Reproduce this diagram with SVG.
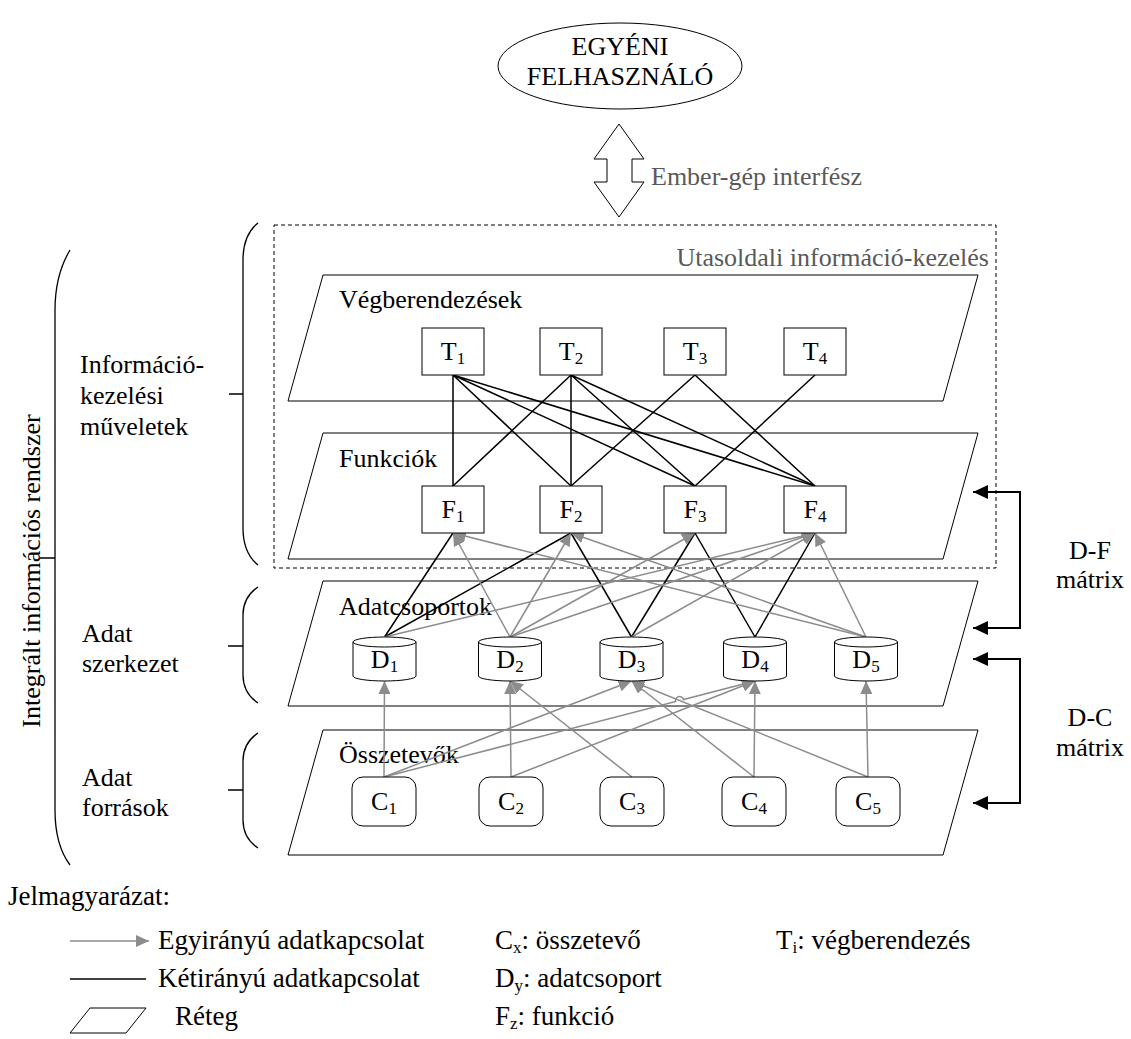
<svg xmlns="http://www.w3.org/2000/svg" width="1131" height="1039" viewBox="0 0 1131 1039">
<style>
text{font-family:"Liberation Serif","Times New Roman",serif;font-size:26px;fill:#000}
.gt{fill:#595959}
.lg{font-size:27px}
.sub{font-size:17px}
.box{fill:#fff;stroke:#000;stroke-width:1}
.layer{fill:none;stroke:#000;stroke-width:1}
.bi{stroke:#000;stroke-width:1.5;fill:none}
.uni{stroke:#8c8c8c;stroke-width:1.5;fill:none;marker-end:url(#ga)}
.brace{fill:none;stroke:#000;stroke-width:1.3}
.mat{fill:none;stroke:#000;stroke-width:2}
.mar{stroke:#000;stroke-width:2;marker-end:url(#ba)}
</style>
<defs>
<marker id="ga" markerUnits="userSpaceOnUse" markerWidth="14" markerHeight="12" refX="13" refY="6" orient="auto"><path d="M0,0 L13,6 L0,12 Z" fill="#8c8c8c"/></marker>
<marker id="ba" markerUnits="userSpaceOnUse" markerWidth="16" markerHeight="14" refX="15" refY="7" orient="auto"><path d="M0,0 L15,7 L0,14 Z" fill="#000"/></marker>
</defs>
<rect width="1131" height="1039" fill="#fff"/>

<g id="user">
<ellipse cx="620" cy="66" rx="122" ry="43" class="box"/>
<text x="620" y="55" text-anchor="middle">EGYÉNI</text>
<text x="620" y="85" text-anchor="middle">FELHASZNÁLÓ</text>
</g>
<g id="hmi">
<polygon points="619,124 644,159 632,159 632,182 644,182 619,217 594,182 607,182 607,159 594,159" class="box"/>
<text x="651" y="185" class="gt">Ember-gép interfész</text>
</g>

<g id="passenger-box">
<rect x="274" y="225" width="722" height="343" fill="none" stroke="#000" stroke-width="1" stroke-dasharray="4,3"/>
<text x="989" y="266" text-anchor="end" class="gt">Utasoldali információ-kezelés</text>
</g>

<g id="layers">
<g id="layer-T"><path class="layer" d="M323,275 L978,275 L943,401 L288,401 Z"/><text x="339" y="308">Végberendezések</text></g>
<g id="layer-F"><path class="layer" d="M323,433 L978,433 L943,559 L288,559 Z"/><text x="339" y="467">Funkciók</text></g>
<g id="layer-D"><path class="layer" d="M323,581 L978,581 L943,706 L288,706 Z"/><text x="339" y="615">Adatcsoportok</text></g>
<g id="layer-C"><path class="layer" d="M323,730 L978,730 L943,855 L288,855 Z"/><text x="339" y="763">Összetevők</text></g>
</g>

<g id="left-labels">
<g id="brace-all"><path class="brace" d="M70,250 Q55,275 55,310 L55,810 Q55,845 70,865 M40,558 H55"/>
<text transform="translate(40,571) rotate(-90)" text-anchor="middle">Integrált információs rendszer</text></g>
<g id="brace-info"><path class="brace" d="M258,223 Q243,235 243,260 L243,528 Q243,553 258,565 M229,394 H243"/>
<text x="80" y="373">Információ-</text><text x="80" y="404">kezelési</text><text x="80" y="435">műveletek</text></g>
<g id="brace-struct"><path class="brace" d="M258,587 Q243,597 243,615 L243,675 Q243,693 258,703 M228,646 H243"/>
<text x="82" y="642">Adat</text><text x="82" y="672">szerkezet</text></g>
<g id="brace-src"><path class="brace" d="M258,733 Q243,743 243,761 L243,820 Q243,838 258,848 M228,790 H243"/>
<text x="82" y="786">Adat</text><text x="82" y="816">források</text></g>
</g>

<g id="connectors">
<g id="T-F">
<path class="bi" d="M453,375 L453,486 M453,375 L571,486 M453,375 L695,486 M453,375 L815,486"/>
<path class="bi" d="M571,375 L453,486 M571,375 L571,486 M571,375 L695,486 M571,375 L815,486"/>
<path class="bi" d="M695,375 L571,486 M695,375 L815,486 M815,375 L695,486"/>
</g>
<g id="D-F">
<path class="bi" d="M384.5,637 L453,533 M384.5,637 L571,533 M631.5,637 L571,533 M631.5,637 L695,533 M755,637 L695,533 M755,637 L815,533"/>
<line class="uni" x1="510" y1="637" x2="453" y2="533"/>
<line class="uni" x1="866" y1="637" x2="453" y2="533"/>
<line class="uni" x1="510" y1="637" x2="571" y2="533"/>
<line class="uni" x1="866" y1="637" x2="571" y2="533"/>
<line class="uni" x1="510" y1="637" x2="695" y2="533"/>
<line class="uni" x1="384.5" y1="637" x2="815" y2="533"/>
<line class="uni" x1="510" y1="637" x2="815" y2="533"/>
<line class="uni" x1="631.5" y1="637" x2="815" y2="533"/>
<line class="uni" x1="866" y1="637" x2="815" y2="533"/>
</g>
<g id="C-D">
<line class="uni" x1="384" y1="777" x2="384.5" y2="681"/>
<line class="uni" x1="384" y1="777" x2="631.5" y2="681"/>
<path class="uni" d="M384,777 L675.7,701.5 A4,4 0 0 1 683.5,699.5 L755,681"/>
<line class="uni" x1="511" y1="777" x2="510" y2="681"/>
<line class="uni" x1="511" y1="777" x2="755" y2="681"/>
<line class="uni" x1="632" y1="777" x2="510" y2="681"/>
<line class="uni" x1="754" y1="777" x2="631.5" y2="681"/>
<line class="uni" x1="754" y1="777" x2="755" y2="681"/>
<line class="uni" x1="868" y1="777" x2="631.5" y2="681"/>
<line class="uni" x1="868" y1="777" x2="866" y2="681"/>
</g>
<g id="matrix-links">
<path class="mat" d="M1020,492 V628 M1020,659 V803"/>
<line class="mar" x1="1021" y1="492" x2="973" y2="492"/>
<line class="mar" x1="1021" y1="628" x2="973" y2="628"/>
<line class="mar" x1="1021" y1="659" x2="973" y2="659"/>
<line class="mar" x1="1021" y1="803" x2="973" y2="803"/>
</g>
</g>

<g id="nodes">
<g id="T1"><rect class="box" x="422" y="328" width="62" height="47"/><text x="453" y="360" text-anchor="middle">T<tspan class="sub" dy="4">1</tspan></text></g>
<g id="T2"><rect class="box" x="540" y="328" width="62" height="47"/><text x="571" y="360" text-anchor="middle">T<tspan class="sub" dy="4">2</tspan></text></g>
<g id="T3"><rect class="box" x="664" y="328" width="62" height="47"/><text x="695" y="360" text-anchor="middle">T<tspan class="sub" dy="4">3</tspan></text></g>
<g id="T4"><rect class="box" x="784" y="328" width="62" height="47"/><text x="815" y="360" text-anchor="middle">T<tspan class="sub" dy="4">4</tspan></text></g>

<g id="F1"><rect class="box" x="422" y="486" width="62" height="47"/><text x="453" y="518" text-anchor="middle">F<tspan class="sub" dy="4">1</tspan></text></g>
<g id="F2"><rect class="box" x="540" y="486" width="62" height="47"/><text x="571" y="518" text-anchor="middle">F<tspan class="sub" dy="4">2</tspan></text></g>
<g id="F3"><rect class="box" x="664" y="486" width="62" height="47"/><text x="695" y="518" text-anchor="middle">F<tspan class="sub" dy="4">3</tspan></text></g>
<g id="F4"><rect class="box" x="784" y="486" width="62" height="47"/><text x="815" y="518" text-anchor="middle">F<tspan class="sub" dy="4">4</tspan></text></g>

<g id="D1"><path class="box" d="M353,642 V676 A31.5,5 0 0 0 416,676 V642"/><ellipse class="box" cx="384.5" cy="642" rx="31.5" ry="5"/><text x="384.5" y="668" text-anchor="middle">D<tspan class="sub" dy="4">1</tspan></text></g>
<g id="D2"><path class="box" d="M478.5,642 V676 A31.5,5 0 0 0 541.5,676 V642"/><ellipse class="box" cx="510" cy="642" rx="31.5" ry="5"/><text x="510" y="668" text-anchor="middle">D<tspan class="sub" dy="4">2</tspan></text></g>
<g id="D3"><path class="box" d="M600,642 V676 A31.5,5 0 0 0 663,676 V642"/><ellipse class="box" cx="631.5" cy="642" rx="31.5" ry="5"/><text x="631.5" y="668" text-anchor="middle">D<tspan class="sub" dy="4">3</tspan></text></g>
<g id="D4"><path class="box" d="M723.5,642 V676 A31.5,5 0 0 0 786.5,676 V642"/><ellipse class="box" cx="755" cy="642" rx="31.5" ry="5"/><text x="755" y="668" text-anchor="middle">D<tspan class="sub" dy="4">4</tspan></text></g>
<g id="D5"><path class="box" d="M834.5,642 V676 A31.5,5 0 0 0 897.5,676 V642"/><ellipse class="box" cx="866" cy="642" rx="31.5" ry="5"/><text x="866" y="668" text-anchor="middle">D<tspan class="sub" dy="4">5</tspan></text></g>

<g id="C1"><rect class="box" x="352" y="777" width="64" height="49" rx="11"/><text x="384" y="810" text-anchor="middle">C<tspan class="sub" dy="4">1</tspan></text></g>
<g id="C2"><rect class="box" x="479" y="777" width="64" height="49" rx="11"/><text x="511" y="810" text-anchor="middle">C<tspan class="sub" dy="4">2</tspan></text></g>
<g id="C3"><rect class="box" x="600" y="777" width="64" height="49" rx="11"/><text x="632" y="810" text-anchor="middle">C<tspan class="sub" dy="4">3</tspan></text></g>
<g id="C4"><rect class="box" x="722" y="777" width="64" height="49" rx="11"/><text x="754" y="810" text-anchor="middle">C<tspan class="sub" dy="4">4</tspan></text></g>
<g id="C5"><rect class="box" x="836" y="777" width="64" height="49" rx="11"/><text x="868" y="810" text-anchor="middle">C<tspan class="sub" dy="4">5</tspan></text></g>
</g>

<g id="matrix-labels">
<text x="1090" y="559" text-anchor="middle">D-F</text><text x="1090" y="588" text-anchor="middle">mátrix</text>
<text x="1090" y="726" text-anchor="middle">D-C</text><text x="1090" y="756" text-anchor="middle">mátrix</text>
</g>

<g id="legend">
<text x="8" y="905" class="lg">Jelmagyarázat:</text>
<line class="uni" x1="70" y1="941" x2="149" y2="941"/>
<text x="158" y="949" class="lg">Egyirányú adatkapcsolat</text>
<line class="bi" x1="70" y1="979" x2="146" y2="979"/>
<text x="158" y="987" class="lg">Kétirányú adatkapcsolat</text>
<path class="layer" d="M90,1008 L146,1008 L126,1033 L70,1033 Z"/>
<text x="175" y="1025" class="lg">Réteg</text>
<text x="495" y="949" class="lg">C<tspan class="sub" dy="4">x</tspan><tspan dy="-4">: összetevő</tspan></text>
<text x="495" y="987" class="lg">D<tspan class="sub" dy="4">y</tspan><tspan dy="-4">: adatcsoport</tspan></text>
<text x="495" y="1025" class="lg">F<tspan class="sub" dy="4">z</tspan><tspan dy="-4">: funkció</tspan></text>
<text x="776" y="949" class="lg">T<tspan class="sub" dy="4">i</tspan><tspan dy="-4">: végberendezés</tspan></text>
</g>
</svg>
